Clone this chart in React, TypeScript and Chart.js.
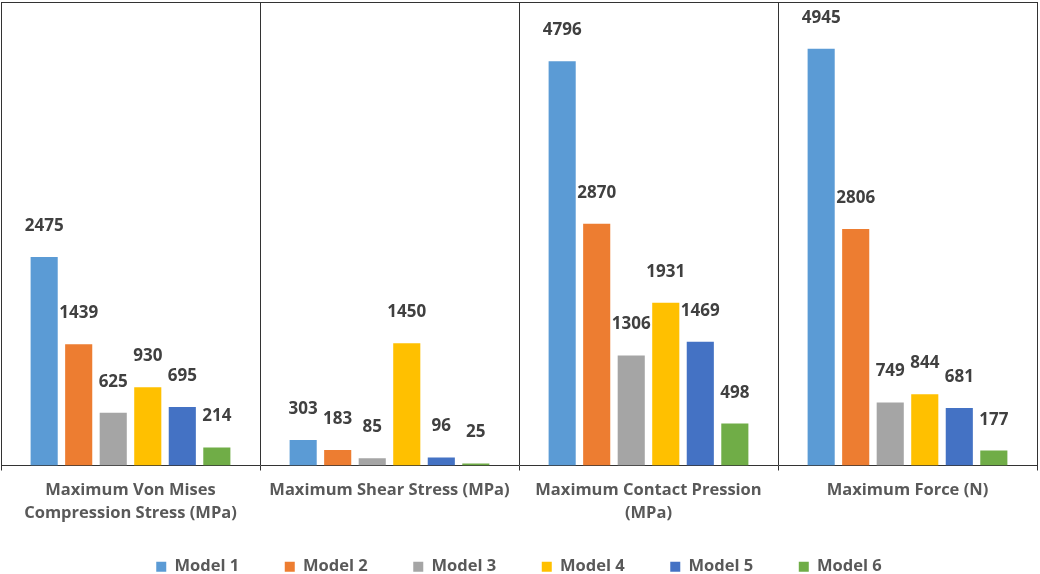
import { Chart, registerables } from 'chart.js';
import { useEffect, useRef } from 'react';

Chart.register(...registerables);

const categories = [
    ['Maximum Von Mises', 'Compression Stress (MPa)'],
    'Maximum Shear Stress (MPa)',
    ['Maximum Contact Pression', '(MPa)'],
    'Maximum Force (N)',
];

const modelNames = ['Model 1', 'Model 2', 'Model 3', 'Model 4', 'Model 5', 'Model 6'];

const model1 = [2475, 303, 4796, 4945];
const model2 = [1439, 183, 2870, 2806];
const model3 = [625, 85, 1306, 749];
const model4 = [930, 1450, 1931, 844];
const model5 = [695, 96, 1469, 681];
const model6 = [214, 25, 498, 177];

const seriesValues = [model1, model2, model3, model4, model5, model6];
const seriesColors = ['#5B9BD5', '#ED7D31', '#A5A5A5', '#FFC000', '#4472C4', '#70AD47'];

const FONT = "'Open Sans', sans-serif";
const LINE = '#333333';

// value labels above each bar
const valueLabels = {
    id: 'valueLabels',
    afterDatasetsDraw(chart: any) {
        const ctx = chart.ctx;
        ctx.save();
        ctx.font = `bold 17px ${FONT}`;
        ctx.fillStyle = '#404040';
        ctx.textAlign = 'center';
        ctx.textBaseline = 'alphabetic';
        chart.data.datasets.forEach((ds: any, i: number) => {
            const meta = chart.getDatasetMeta(i);
            meta.data.forEach((bar: any, j: number) => {
                ctx.fillText(String(ds.data[j]), bar.x, bar.y - 26);
            });
        });
        ctx.restore();
    },
};

// top edge of the plot frame
const topBorder = {
    id: 'topBorder',
    afterDraw(chart: any) {
        const { ctx, chartArea } = chart;
        ctx.save();
        ctx.strokeStyle = LINE;
        ctx.lineWidth = 1;
        ctx.beginPath();
        ctx.moveTo(chartArea.left, chartArea.top + 0.5);
        ctx.lineTo(chartArea.right, chartArea.top + 0.5);
        ctx.stroke();
        ctx.restore();
    },
};

export default function App() {
    const chartRef = useRef<HTMLCanvasElement>(null);
    const chartInstance = useRef<Chart | null>(null);

    useEffect(() => {
        if (!chartRef.current) return;
        if (chartInstance.current) {
            chartInstance.current.destroy();
        }
        const ctx = chartRef.current.getContext('2d');
        if (!ctx) return;

        const config: any = {
            type: 'bar',
            data: {
                labels: categories,
                datasets: modelNames.map((name, i) => ({
                    label: name,
                    data: seriesValues[i],
                    backgroundColor: seriesColors[i],
                    borderWidth: 0,
                    categoryPercentage: 0.8,
                    barPercentage: 0.785,
                })),
            },
            options: {
                responsive: true,
                maintainAspectRatio: false,
                animation: false,
                layout: {
                    padding: { left: 1, right: 3, top: 2, bottom: -11 },
                },
                plugins: {
                    legend: {
                        position: 'bottom',
                        labels: {
                            boxWidth: 10,
                            boxHeight: 10,
                            padding: 33,
                            color: '#595959',
                            font: { family: FONT, size: 16.5, weight: 'bold' },
                            // extra gap after each entry, like the wide spacing of the original
                            generateLabels: (chart: any) => {
                                const items = Chart.defaults.plugins.legend.labels.generateLabels(chart);
                                return items.map((it: any, i: number) =>
                                    i < items.length - 1 ? { ...it, text: it.text + '\u2002 ' } : it,
                                );
                            },
                        },
                    },
                    tooltip: { enabled: false },
                },
                scales: {
                    x: {
                        offset: true,
                        grid: {
                            offset: true,
                            color: LINE,
                            lineWidth: 1,
                            tickLength: 5,
                        },
                        border: { color: LINE, width: 1 },
                        ticks: {
                            color: '#595959',
                            padding: 8,
                            maxRotation: 0,
                            autoSkip: false,
                            font: { family: FONT, size: 16.5, weight: 'bold', lineHeight: 1.4 },
                        },
                        afterFit: (scale: any) => {
                            scale.height = 60;
                        },
                    },
                    y: {
                        display: false,
                        min: 0,
                        max: 5500,
                    },
                },
            },
            plugins: [valueLabels, topBorder],
        };

        chartInstance.current = new Chart(ctx, config);

        return () => {
            if (chartInstance.current) {
                chartInstance.current.destroy();
                chartInstance.current = null;
            }
        };
    }, []);

    return (
        <div style={{ position: 'absolute', left: 0, top: 0, width: 1040, height: 574, background: '#fff' }}>
            <canvas ref={chartRef} />
        </div>
    );
}
